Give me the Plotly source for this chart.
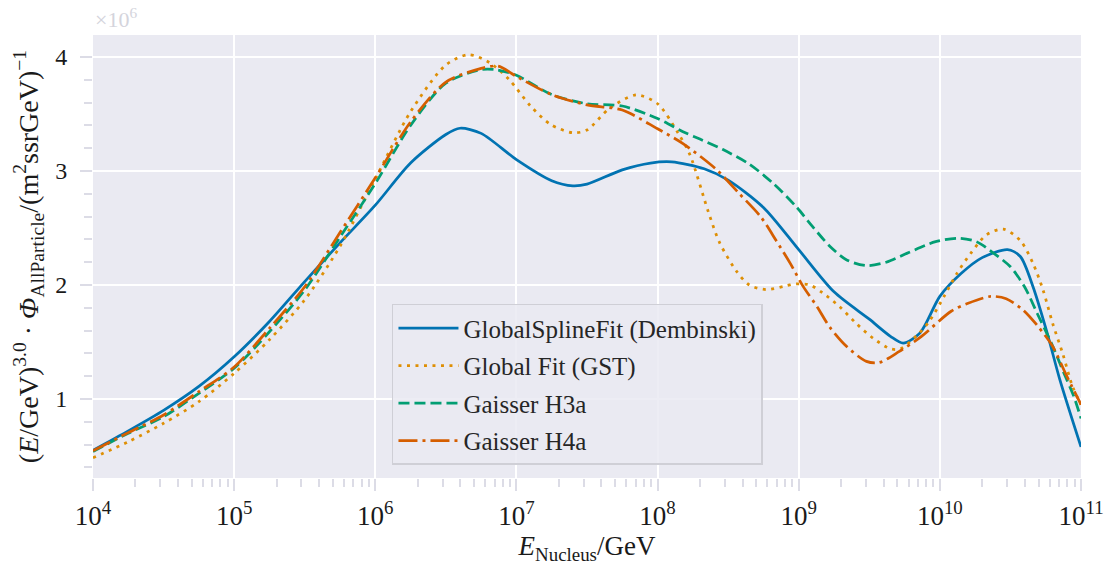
import plotly.graph_objects as go

# log10(E / GeV) sample positions and flux values (x 1e6) per model
gsf_lgE = [4.0, 4.25, 4.5, 4.75, 5.0, 5.25, 5.5, 5.75, 6.0, 6.25, 6.5, 6.6, 6.75, 7.0, 7.25, 7.4,
           7.5, 7.75, 7.95, 8.1, 8.33, 8.5, 8.75, 9.0, 9.25, 9.5, 9.65, 9.74, 9.86, 10.0, 10.15,
           10.3, 10.48, 10.57, 10.66, 10.76, 10.85, 11.0]
gsf_flux = [0.55, 0.72, 0.90, 1.11, 1.37, 1.68, 2.03, 2.37, 2.70, 3.07, 3.32, 3.375, 3.33, 3.10, 2.915, 2.87,
            2.885, 3.01, 3.07, 3.08, 3.02, 2.92, 2.68, 2.31, 1.94, 1.70, 1.55, 1.49, 1.58, 1.90, 2.10,
            2.24, 2.31, 2.25, 1.985, 1.58, 1.17, 0.58]

gst_lgE = [4.0, 4.25, 4.5, 4.75, 5.0, 5.25, 5.5, 5.75, 6.0, 6.25, 6.5, 6.66, 6.81, 6.95, 7.1, 7.24,
           7.4, 7.5, 7.66, 7.85, 8.0, 8.147, 8.23, 8.36, 8.44, 8.56, 8.65, 8.77, 8.9, 8.98, 9.08,
           9.17, 9.29, 9.41, 9.53, 9.65, 9.72, 9.84, 9.93, 10.03, 10.12, 10.22, 10.33, 10.45,
           10.57, 10.66, 10.73, 10.80, 10.87, 10.94, 11.0]
gst_flux = [0.485, 0.625, 0.787, 0.976, 1.225, 1.52, 1.87, 2.34, 2.93, 3.52, 3.93, 4.02, 3.95, 3.80, 3.57, 3.41,
            3.335, 3.36, 3.55, 3.667, 3.59, 3.33, 3.14, 2.64, 2.37, 2.12, 2.0, 1.96, 1.99, 2.01, 2.0,
            1.93, 1.81, 1.66, 1.53, 1.44, 1.44, 1.56, 1.69, 1.90, 2.10, 2.28, 2.44, 2.49,
            2.39, 2.19, 1.96, 1.66, 1.40, 1.11, 0.95]

h3a_lgE = [4.0, 4.25, 4.5, 4.75, 5.0, 5.25, 5.5, 5.75, 6.0, 6.25, 6.5, 6.75, 6.85, 7.0, 7.25, 7.5,
           7.75, 8.0, 8.18, 8.3, 8.46, 8.65, 8.82, 8.98, 9.10, 9.22, 9.34, 9.48, 9.62, 9.78, 9.97,
           10.13, 10.26, 10.38, 10.5, 10.60, 10.69, 10.79, 10.88, 10.95, 11.0]
h3a_flux = [0.54, 0.70, 0.845, 1.05, 1.27, 1.59, 1.956, 2.42, 2.89, 3.40, 3.77, 3.89, 3.89, 3.84, 3.67, 3.59,
            3.57, 3.46, 3.345, 3.28, 3.19, 3.06, 2.89, 2.69, 2.51, 2.34, 2.22, 2.17, 2.20, 2.285, 2.38,
            2.41, 2.38, 2.28, 2.16, 1.985, 1.75, 1.49, 1.225, 1.02, 0.83]

h4a_lgE = [4.0, 4.25, 4.5, 4.75, 5.0, 5.25, 5.5, 5.75, 6.0, 6.25, 6.5, 6.75, 6.87, 7.0, 7.25, 7.5,
           7.75, 8.0, 8.18, 8.42, 8.58, 8.73, 8.84, 8.94, 9.03, 9.13, 9.22, 9.34, 9.48, 9.57, 9.71,
           9.87, 10.08, 10.2, 10.36, 10.47, 10.59, 10.70, 10.80, 10.89, 11.0]
h4a_flux = [0.545, 0.705, 0.86, 1.065, 1.28, 1.62, 1.985, 2.46, 2.94, 3.43, 3.78, 3.90, 3.92, 3.83, 3.67, 3.58,
            3.535, 3.37, 3.24, 3.01, 2.80, 2.60, 2.39, 2.19, 1.99, 1.81, 1.63, 1.46, 1.33, 1.32, 1.415,
            1.55, 1.77, 1.84, 1.90, 1.88, 1.78, 1.63, 1.46, 1.225, 0.95]

x_tick_exps = [4, 5, 6, 7, 8, 9, 10, 11]
y_tick_vals = [1, 2, 3, 4]

FONT = "Liberation Serif"
TICK_COLOR = "#dcdce6"

series = [
    ("GlobalSplineFit (Dembinski)", gsf_lgE, gsf_flux, "#0173b2", "solid"),
    ("Global Fit (GST)", gst_lgE, gst_flux, "#de8f05", "3px,5.5px"),
    ("Gaisser H3a", h3a_lgE, h3a_flux, "#029e73", "11px,5px"),
    ("Gaisser H4a", h4a_lgE, h4a_flux, "#d55e00", "19px,5px,3px,5px"),
]

fig = go.Figure()
for i, (name, lgE, flux, color, dash) in enumerate(series):
    fig.add_trace(go.Scatter(
        x=[10 ** v for v in lgE], y=flux, name=name, mode="lines",
        line=dict(color=color, width=2.75, dash=dash, shape="spline", smoothing=0.8),
        legendgroup=f"g{i}",
    ))

fig.update_layout(
    width=1108, height=572,
    margin=dict(l=93, r=27, t=35, b=94, autoexpand=False),
    paper_bgcolor="white", plot_bgcolor="#eaeaf2",
    font=dict(family=FONT, color="#1a1a1a", size=20),
    showlegend=True,
    legend=dict(
        x=0.3026, y=0.3928, xanchor="left", yanchor="top",
        bgcolor="rgba(234,234,242,0.85)", bordercolor="#cfcfd6", borderwidth=1.5,
        font=dict(family=FONT, size=25, color="#262626"),
        tracegroupgap=2, itemwidth=60,
    ),
    xaxis=dict(
        type="log", range=[4, 11],
        tickvals=[10 ** e for e in x_tick_exps],
        ticktext=[f"10<sup>{e}</sup>" for e in x_tick_exps],
        tickfont=dict(family=FONT, size=27, color="#1a1a1a"),
        ticks="outside", ticklen=12, tickwidth=2, tickcolor=TICK_COLOR,
        ticklabelstandoff=2,
        showgrid=True, gridcolor="white", gridwidth=2,
        zeroline=False, showline=False,
        minor=dict(ticks="outside", ticklen=8, tickwidth=1.5, tickcolor=TICK_COLOR,
                   dtick="D1", showgrid=False),
        title=dict(text="<i>E</i><sub>Nucleus</sub>/GeV",
                   font=dict(family=FONT, size=27, color="#1a1a1a"), standoff=4),
    ),
    yaxis=dict(
        range=[0.307, 4.193],
        tickvals=y_tick_vals, ticktext=[str(v) for v in y_tick_vals],
        tickfont=dict(family=FONT, size=24, color="#1a1a1a"),
        ticks="outside", ticklen=12, tickwidth=2, tickcolor=TICK_COLOR,
        ticklabelstandoff=8,
        showgrid=True, gridcolor="white", gridwidth=2,
        zeroline=False, showline=False,
        minor=dict(ticks="outside", ticklen=8, tickwidth=1.5, tickcolor=TICK_COLOR,
                   tick0=0, dtick=0.2, showgrid=False),
        title=dict(text="(<i>E</i>/GeV)<sup>3.0</sup> · <i>Φ</i><sub>AllParticle</sub>/(m<sup>2</sup>ssrGeV)<sup>−1</sup>",
                   font=dict(family=FONT, size=28, color="#1a1a1a"), standoff=8),
    ),
    annotations=[dict(
        text="×10<sup>6</sup>", xref="paper", yref="paper", x=0, y=1.0,
        xanchor="left", yanchor="bottom", yshift=1, showarrow=False,
        font=dict(family=FONT, size=22, color="#d4d4dc"),
    )],
)

fig.write_html("out.html")
